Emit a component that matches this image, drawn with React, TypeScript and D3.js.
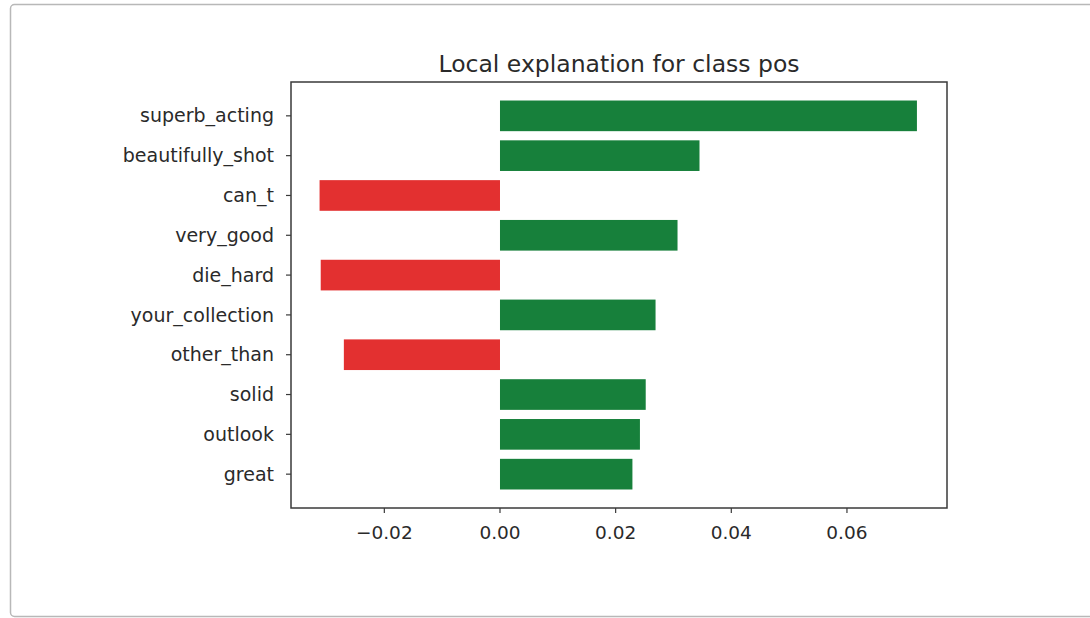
import React from "react";
import * as d3 from "d3";

const features = [
  "superb_acting",
  "beautifully_shot",
  "can_t",
  "very_good",
  "die_hard",
  "your_collection",
  "other_than",
  "solid",
  "outlook",
  "great",
];
const weights = [0.0721, 0.0345, -0.0312, 0.0307, -0.031, 0.0269, -0.027, 0.0252, 0.0242, 0.0229];
const xTicks = [-0.02, 0.0, 0.02, 0.04, 0.06];
const title = "Local explanation for class pos";

export default function App() {
  const W = 1090;
  const H = 618;
  const left = 291, right = 947, top = 82, bottom = 508;
  const x = d3.scaleLinear().domain([-0.03614, 0.0773]).range([left, right]);
  const y = d3.scaleLinear().domain([-0.85, 9.85]).range([top, bottom]);
  const barH = 0.77;
  const font = "'DejaVu Sans', sans-serif";
  const fmt = (v: number) => {
    const s = d3.format(".2f")(Math.abs(v));
    return v < 0 ? "\u2212" + s : s;
  };
  return (
    <svg width={W} height={H} style={{ position: "absolute", left: 0, top: 0, background: "#fff" }}>
      <rect x={10.5} y={4.5} width={1100} height={612} rx={4} fill="#fff" stroke="#b8b8b8" strokeWidth={1.5} />
      <text x={(left + right) / 2} y={72} textAnchor="middle" fontFamily={font} fontSize={23.5} fill="#2a2a2a">
        {title}
      </text>
      {features.map((f, i) => {
        const v = weights[i];
        const x0 = x(Math.min(0, v));
        const x1 = x(Math.max(0, v));
        return (
          <rect
            key={f}
            x={x0}
            y={y(i - barH / 2)}
            width={x1 - x0}
            height={y(i + barH / 2) - y(i - barH / 2)}
            fill={v >= 0 ? "#17803b" : "#e33030"}
          />
        );
      })}
      <rect x={left} y={top} width={right - left} height={bottom - top} fill="none" stroke="#3a3a3a" strokeWidth={1.5} />
      {features.map((f, i) => (
        <g key={f}>
          <line x1={left - 5} x2={left} y1={y(i)} y2={y(i)} stroke="#3a3a3a" strokeWidth={1.2} />
          <text x={left - 17} y={y(i)} dy="0.35em" textAnchor="end" fontFamily={font} fontSize={19} fill="#2a2a2a">
            {f}
          </text>
        </g>
      ))}
      {xTicks.map((t) => (
        <g key={t}>
          <line x1={x(t)} x2={x(t)} y1={bottom} y2={bottom + 5} stroke="#3a3a3a" strokeWidth={1.2} />
          <text x={x(t)} y={539} textAnchor="middle" fontFamily={font} fontSize={18.5} fill="#2a2a2a">
            {fmt(t)}
          </text>
        </g>
      ))}
    </svg>
  );
}
